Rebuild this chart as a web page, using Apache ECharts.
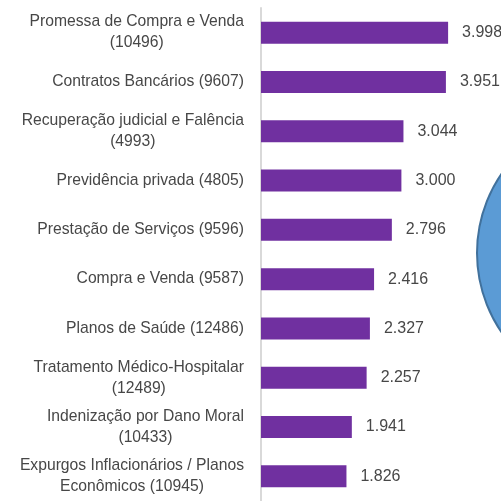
<!DOCTYPE html>
<html>
<head>
    <meta charset="UTF-8">
    <title>ECharts</title>
    <script src="https://cdn.jsdelivr.net/npm/echarts@6/dist/echarts.min.js"></script>
    <style>
        html, body { margin: 0; padding: 0; width: 100%; height: 100%; background: #fff; }
        #main { width: 501px; height: 501px; }
    </style>
</head>
<body>
    <div id="main"></div>
    <script type="text/javascript">
        // categorias (assunto + código)
        var categories = [
            'Promessa de Compra e Venda\n(10496)',
            'Contratos Bancários (9607)',
            'Recuperação judicial e Falência\n(4993)',
            'Previdência privada (4805)',
            'Prestação de Serviços (9596)',
            'Compra e Venda (9587)',
            'Planos de Saúde (12486)',
            'Tratamento Médico-Hospitalar\n(12489)',
            'Indenização por Dano Moral\n(10433)',
            'Expurgos Inflacionários / Planos\nEconômicos (10945)'
        ];
        var values = [3998, 3951, 3044, 3000, 2796, 2416, 2327, 2257, 1941, 1826];

        function fmt(v) {
            return String(v).replace(/\B(?=(\d{3})+(?!\d))/g, '.');
        }

        var myChart = echarts.init(document.getElementById('main'));

        var option = {
            animation: false,
            grid: { left: 261, right: 6, top: 8, bottom: -4 },
            xAxis: {
                type: 'value',
                min: 0,
                max: 5000,
                show: false
            },
            yAxis: {
                type: 'category',
                inverse: true,
                data: categories,
                axisLine: { show: true, lineStyle: { color: '#D9D9D9', width: 2 } },
                axisTick: { show: false },
                axisLabel: {
                    margin: 17,
                    formatter: function (s) {
                        return s.split('\n').map(function (l) { return '{c|' + l + '}'; }).join('\n');
                    },
                    rich: {
                        c: {
                            align: 'center',
                            fontFamily: 'Liberation Sans',
                            fontSize: 15.7,
                            lineHeight: 21,
                            color: '#474747'
                        }
                    }
                }
            },
            series: [{
                type: 'bar',
                data: values,
                barWidth: 22,
                itemStyle: { color: '#7030A0' },
                label: {
                    show: true,
                    position: 'right',
                    distance: 14,
                    fontFamily: 'Liberation Sans',
                    fontSize: 16,
                    color: '#474747',
                    formatter: function (p) { return fmt(p.value); }
                }
            }],
            graphic: [{
                type: 'circle',
                shape: { cx: 617, cy: 253, r: 140 },
                style: { fill: '#5B9BD5', stroke: '#41719C', lineWidth: 2 },
                z: -1
            }]
        };

        myChart.setOption(option);
    </script>
</body>
</html>
